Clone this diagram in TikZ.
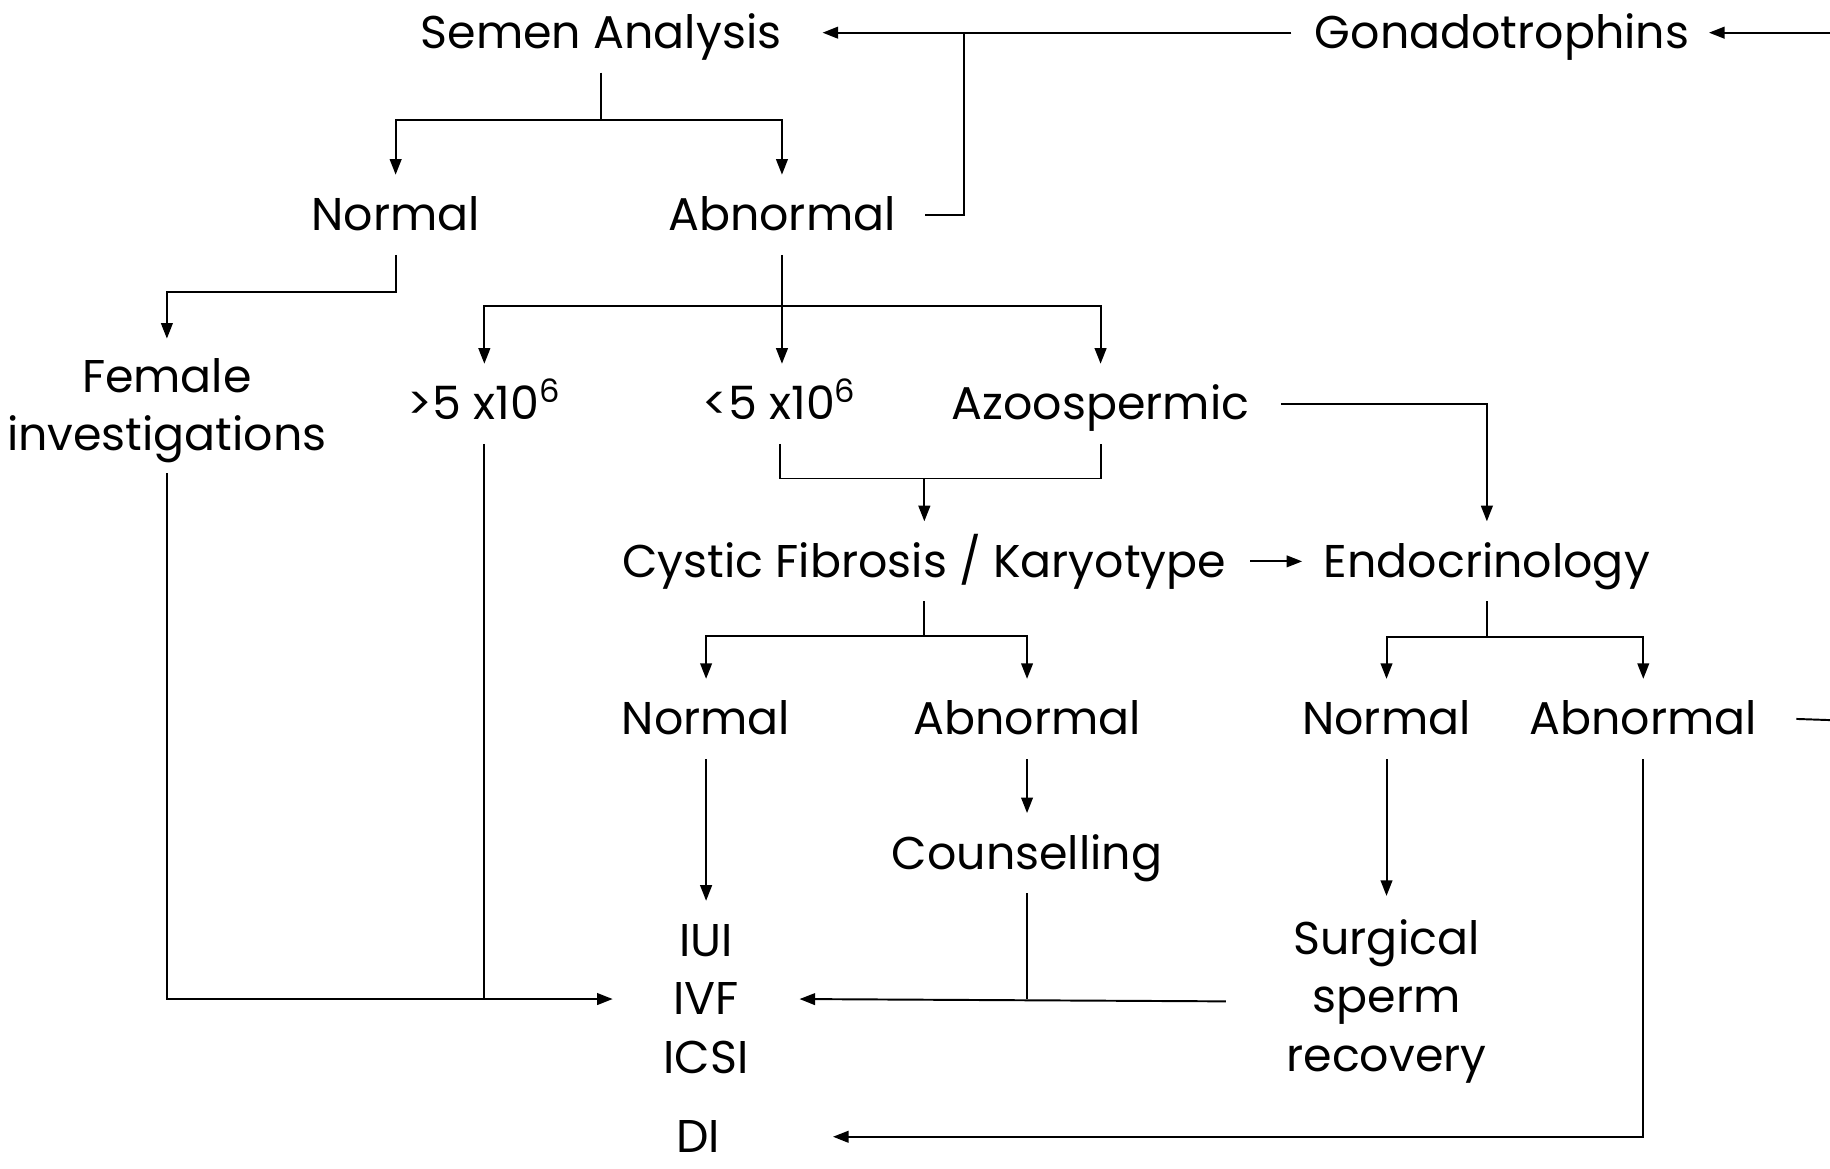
\documentclass[tikz,border=0pt]{standalone}
\usepackage{fontspec}
\newfontfamily\dfam{Poppins}
\usetikzlibrary{arrows.meta}
\newcommand{\dfnt}{\dfam\fontsize{23.6pt}{30pt}\selectfont}
\begin{document}
\begin{tikzpicture}[x=0.6pt,y=-0.6pt,
  lb/.style={font=\dfnt, inner xsep=0pt, inner ysep=0pt, text height=16.5pt, text depth=0pt, minimum height=40.8pt},
  ml/.style={font=\dfnt, inner sep=0pt, align=center},
  ln/.style={line width=1pt},
  arr/.style={line width=1pt, -{Triangle[length=8pt,width=6pt]}}]
\useasboundingbox (0,0) rectangle (1568,1001);
% nodes
\node[lb] (sa) at (515,28) {Semen Analysis};
\node[lb] (gon) at (1287,28) {Gonadotrophins};
\node[lb] (n1) at (339,184) {Normal};
\node[lb] (a1) at (670,184) {Abnormal};
\node[ml] (fi) at (143,352) {Female\\investigations};
\node[lb] (p5) at (415,346) {>5 x10\textsuperscript{6}};
\node[lb] (m5) at (668,346) {<5 x10\textsuperscript{6}};
\node[lb] (az) at (943,346) {Azoospermic};
\node[lb] (cf) at (792,481) {Cystic Fibrosis / Karyotype};
\node[lb] (en) at (1274,481) {Endocrinology};
\node[lb] (n2) at (605,616) {Normal};
\node[lb] (a2) at (880,616) {Abnormal};
\node[lb] (n3) at (1188,616) {Normal};
\node[lb] (a3) at (1408,616) {Abnormal};
\node[lb] (co) at (880,731) {Counselling};
\node[ml] (tr) at (605,856) {IUI\\IVF\\ICSI};
\node[ml] (ss) at (1188,858) {Surgical\\sperm\\recovery};
\node[ml] (di) at (598,974) {DI};
% junction and edge coordinates
\coordinate (b1) at (515,103);
\coordinate (k1) at (826,28);
\coordinate (eg) at (1568,28);
\coordinate (b2) at (670,262);
\coordinate (b3) at (792,410);
\coordinate (b4) at (792,545);
\coordinate (b5) at (1274,546);
\coordinate (ea) at (1568,617);
\coordinate (b6) at (880,856);
% connectors
\draw[ln] (sa.south) -- (b1);
\draw[arr] (b1) -| (n1.north);
\draw[arr] (b1) -| (a1.north);
\draw[ln] ([xshift=15pt]a1.east) -| (k1);
\draw[arr] ([xshift=-12pt]gon.west) -- ([xshift=21pt]sa.east);
\draw[arr] (eg) -- ([xshift=10pt]gon.east);
\draw[arr] (n1.south) |- (339,250) -| ([yshift=10pt]fi.north);
\draw[ln] (a1.south) -- (b2);
\draw[arr] (b2) -| (p5.north);
\draw[arr] (b2) -| (az.north);
\draw[arr] (b2) -- (b2 |- m5.north);
\draw[arr] ([xshift=16pt]az.east) -| (en.north);
\draw[ln] (m5.south) |- (az.south |- b3) -- (az.south);
\draw[arr] (b3) -- (cf.north);
\draw[arr] ([xshift=12pt]cf.east) -- ([xshift=-11pt]en.west);
\draw[ln] (cf.south) -- (b4);
\draw[arr] (b4) -| (n2.north);
\draw[arr] (b4) -| (a2.north);
\draw[ln] (en.south) -- (b5);
\draw[arr] (b5) -| (n3.north);
\draw[arr] (b5) -| (a3.north);
\draw[ln] ([xshift=20pt]a3.east) -- (ea);
\draw[arr] (n2.south) -- ([yshift=12pt]tr.north);
\draw[arr] (a2.south) -- (co.north);
\draw[ln] (co.south) -- (b6);
\draw[arr] ([xshift=-31pt]ss.west) -- ([xshift=26pt]tr.east);
\draw[arr] ([yshift=-5pt]fi.south) |- ([xshift=-26pt]tr.west);
\draw[ln] (p5.south) -- (p5.south |- tr.west);
\draw[arr] (n3.south) -- ([yshift=12pt]ss.north);
\draw[arr] (a3.south) |- ([xshift=58pt]di.east);
\end{tikzpicture}
\end{document}
